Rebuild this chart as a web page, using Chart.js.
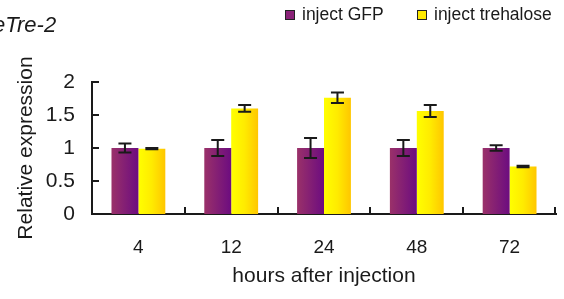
<!DOCTYPE html>
<html>
<head>
<meta charset="utf-8">
<script src="https://cdn.jsdelivr.net/npm/chart.js@4/dist/chart.umd.min.js"></script>
<style>
  html, body { margin: 0; padding: 0; background: #fff; }
  #wrap { width: 564px; height: 299px; }
</style>
</head>
<body>
<div id="wrap"><canvas id="c" width="564" height="299"></canvas></div>
<script>
// ---- data ----
const categories = ['4', '12', '24', '48', '72'];
const seriesNames = ['inject GFP', 'inject trehalose'];
const gfpValues = [1.00, 1.00, 1.00, 1.00, 1.00];
const gfpErrors = [0.07, 0.12, 0.15, 0.12, 0.04];
const trehaloseValues = [0.99, 1.60, 1.76, 1.56, 0.72];
const trehaloseErrors = [0.01, 0.05, 0.08, 0.09, 0.01];
const yTickValues = [0, 0.5, 1, 1.5, 2];
const yTickLabels = ['0', '0.5', '1', '1.5', '2'];

const FONT = '"Liberation Sans", Arial, Helvetica, sans-serif';
const TEXT = '#1a1a1a';
const CAT_PCT = 0.58, BAR_PCT = 1.0;

const purpleStops = [[0, '#9a3169'], [1, '#6c0c80']];
const yellowStops = [[0, '#ffff00'], [0.5, '#ffeb00'], [1, '#ffc600']];

function barGradient(stops, fallback) {
  return function (ctx) {
    const chart = ctx.chart;
    const xs = chart.scales && chart.scales.x;
    if (!xs || ctx.type !== 'data' || ctx.dataIndex === undefined) return fallback;
    const n = chart.data.labels.length;
    const catW = (xs.right - xs.left) / n;
    const bw = catW * CAT_PCT / chart.data.datasets.length * BAR_PCT;
    const cx = xs.getPixelForValue(ctx.dataIndex);
    const left = ctx.datasetIndex === 0 ? cx - bw : cx;
    if (!isFinite(left) || !isFinite(bw) || bw <= 0) return fallback;
    const g = chart.ctx.createLinearGradient(left, 0, left + bw, 0);
    stops.forEach(s => g.addColorStop(s[0], s[1]));
    return g;
  };
}

const errorBars = {
  id: 'errorBars',
  afterDatasetsDraw(chart) {
    const ctx = chart.ctx, ys = chart.scales.y;
    const errs = [gfpErrors, trehaloseErrors];
    ctx.save();
    ctx.strokeStyle = '#1a1a1a';
    ctx.lineWidth = 2;
    chart.data.datasets.forEach((ds, di) => {
      const meta = chart.getDatasetMeta(di);
      meta.data.forEach((el, i) => {
        const v = ds.data[i], e = errs[di][i];
        const x = el.x;
        const yt = ys.getPixelForValue(v + e), yb = ys.getPixelForValue(v - e);
        const cap = 6.5;
        ctx.beginPath();
        ctx.moveTo(x, yt); ctx.lineTo(x, yb);
        ctx.moveTo(x - cap, yt); ctx.lineTo(x + cap, yt);
        ctx.moveTo(x - cap, yb); ctx.lineTo(x + cap, yb);
        ctx.stroke();
      });
    });
    ctx.restore();
  }
};

const inwardTicks = {
  id: 'inwardTicks',
  afterDraw(chart) {
    const ctx = chart.ctx, xs = chart.scales.x, ys = chart.scales.y;
    const a = chart.chartArea;
    ctx.save();
    ctx.strokeStyle = '#1a1a1a';
    ctx.lineWidth = 2;
    ctx.beginPath();
    yTickValues.forEach(v => {
      const y = Math.round(ys.getPixelForValue(v));
      ctx.moveTo(a.left, y); ctx.lineTo(a.left + 7, y);
    });
    for (let i = 0; i < categories.length; i++) {
      let x;
      if (i < categories.length - 1) {
        x = (xs.getPixelForValue(i) + xs.getPixelForValue(i + 1)) / 2;
      } else {
        x = a.right - 1;
      }
      x = Math.round(x);
      ctx.moveTo(x, a.bottom); ctx.lineTo(x, a.bottom - 7);
    }
    ctx.stroke();
    ctx.restore();
  }
};

const titleAndLegend = {
  id: 'titleAndLegend',
  afterDraw(chart) {
    const ctx = chart.ctx;
    ctx.save();
    ctx.fillStyle = TEXT;
    ctx.font = 'italic 22px ' + FONT;
    ctx.textBaseline = 'alphabetic';
    ctx.textAlign = 'left';
    ctx.fillText('eTre-2', -7, 32);
    const swatches = [
      { x: 285, fill: '#8a2278', label: seriesNames[0] },
      { x: 417, fill: '#ffea00', label: seriesNames[1] }
    ];
    ctx.font = '17.5px ' + FONT;
    ctx.textBaseline = 'middle';
    swatches.forEach(s => {
      ctx.fillStyle = s.fill;
      ctx.fillRect(s.x, 10, 10, 10);
      ctx.strokeStyle = '#222';
      ctx.lineWidth = 1;
      ctx.strokeRect(s.x + 0.5, 10.5, 9, 9);
      ctx.fillStyle = TEXT;
      ctx.fillText(s.label, s.x + 17, 15.5);
    });
    ctx.restore();
  }
};

new Chart(document.getElementById('c'), {
  type: 'bar',
  data: {
    labels: categories,
    datasets: [
      {
        label: seriesNames[0],
        data: gfpValues,
        backgroundColor: barGradient(purpleStops, '#8a2278'),
        borderWidth: 0,
        categoryPercentage: CAT_PCT,
        barPercentage: BAR_PCT
      },
      {
        label: seriesNames[1],
        data: trehaloseValues,
        backgroundColor: barGradient(yellowStops, '#ffea00'),
        borderWidth: 0,
        categoryPercentage: CAT_PCT,
        barPercentage: BAR_PCT
      }
    ]
  },
  options: {
    responsive: false,
    animation: false,
    devicePixelRatio: 1,
    layout: { padding: { top: 82, right: 8, bottom: 0, left: 0 } },
    plugins: {
      legend: { display: false },
      title: { display: false },
      tooltip: { enabled: false }
    },
    scales: {
      x: {
        grid: { display: false, drawTicks: false },
        border: { display: true, color: '#1a1a1a', width: 2 },
        ticks: { color: TEXT, font: { family: FONT, size: 19 }, padding: 22 },
        title: {
          display: true, text: 'hours after injection', color: TEXT,
          font: { family: FONT, size: 21 }, padding: { top: 0, bottom: 10 }
        },
        afterFit(scale) { scale.height = 85; }
      },
      y: {
        min: 0, max: 2,
        afterBuildTicks(scale) { scale.ticks = yTickValues.map(v => ({ value: v })); },
        grid: { display: false, drawTicks: false },
        border: { display: true, color: '#1a1a1a', width: 2 },
        ticks: {
          color: TEXT, font: { family: FONT, size: 21 }, padding: 17,
          callback(value) {
            const i = yTickValues.indexOf(value);
            return i >= 0 ? yTickLabels[i] : String(value);
          }
        },
        title: {
          display: true, text: 'Relative expression', color: TEXT,
          font: { family: FONT, size: 21 }, padding: { top: 14, bottom: 0 }
        },
        afterFit(scale) { scale.width = 92; }
      }
    }
  },
  plugins: [errorBars, inwardTicks, titleAndLegend]
});
</script>
</body>
</html>
